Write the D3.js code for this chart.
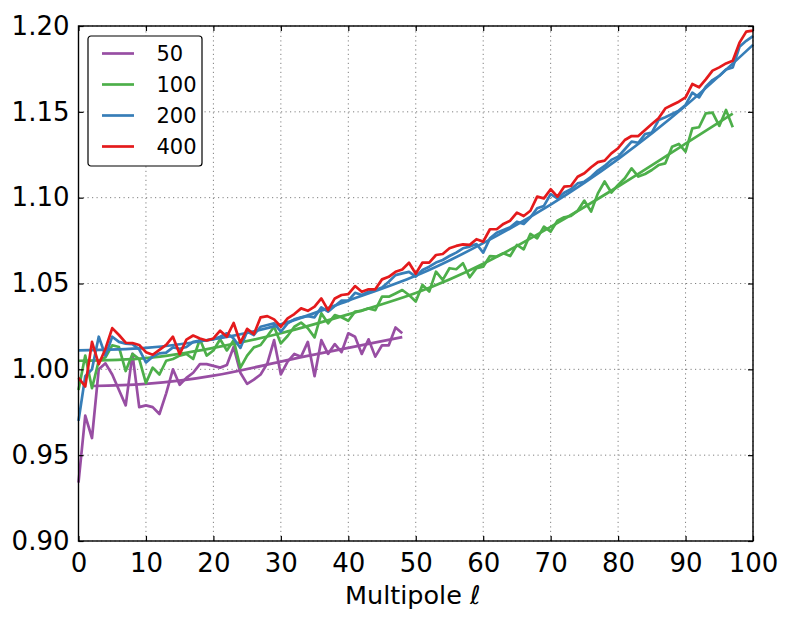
<!DOCTYPE html>
<html>
<head>
<meta charset="utf-8">
<script src="https://cdnjs.cloudflare.com/ajax/libs/d3/7.8.5/d3.min.js"></script>
<style>
  body { margin: 0; background: #fff; }
  svg text { font-family: "DejaVu Sans", sans-serif; fill: #000; }
</style>
</head>
<body>
<svg id="chart" width="790" height="626"></svg>
<script>
// ratio per multipole, index = ell
var ratio50 = [0.934, 0.973, 0.960, 1.000, 1.0035, 0.997, 0.988, 0.979, 1.009, 0.978,
  0.979, 0.978, 0.974, 0.986, 1.000, 0.991, 0.995, 0.998, 1.003, 1.003,
  1.002, 1.001, 1.0025, 1.013, 0.998, 0.9915, 0.994, 0.997, 1.0035, 1.017,
  0.997, 1.0045, 1.009, 1.0074, 1.016, 0.996, 1.017, 1.009, 1.0147, 1.010,
  1.021, 1.019, 1.009, 1.0175, 1.0074, 1.014, 1.014, 1.0244, 1.021];

var ratio100 = [0.988, 1.008, 0.989, 1.005, 1.007, 1.014, 1.013, 0.999, 1.009, 1.006,
  0.992, 1.001, 0.997, 1.005, 1.006, 1.008, 1.009, 1.006, 1.0175, 1.008,
  1.011, 1.0175, 1.011, 1.017, 1.001, 1.008, 1.0128, 1.0142, 1.0194, 1.0248,
  1.0151, 1.0194, 1.0248, 1.0272, 1.0239, 1.0186, 1.0326, 1.0268, 1.0316, 1.0303,
  1.0283, 1.0336, 1.0341, 1.0355, 1.0345, 1.0423, 1.0423, 1.0442, 1.0462, 1.0433,
  1.0395, 1.0492, 1.0453, 1.0569, 1.0521, 1.0589, 1.0583, 1.0618, 1.0536, 1.0589,
  1.0598, 1.066, 1.0657, 1.0676, 1.066, 1.0725, 1.0699, 1.0789, 1.0763, 1.0831,
  1.0802, 1.0866, 1.0886, 1.0893, 1.0924, 1.0983, 1.0919, 1.1025, 1.1094, 1.103,
  1.1074, 1.1113, 1.1171, 1.1123, 1.1138, 1.1161, 1.119, 1.12, 1.1297, 1.1313,
  1.1268, 1.1404, 1.141, 1.1491, 1.1495, 1.1418, 1.1511, 1.141];

var ratio200 = [0.970, 0.996, 1.000, 1.019, 1.008, 1.019, 1.016, 1.015, 1.0147, 1.0116,
  1.004, 1.0074, 1.0093, 1.0097, 1.0128, 1.012, 1.013, 1.016, 1.0167, 1.017,
  1.0175, 1.019, 1.021, 1.018, 1.0125, 1.022, 1.020, 1.0248, 1.0258, 1.0268,
  1.0219, 1.0268, 1.0291, 1.0303, 1.031, 1.0303, 1.0361, 1.0336, 1.0369, 1.040,
  1.040, 1.0446, 1.0433, 1.0452, 1.0462, 1.0477, 1.051, 1.0549, 1.0559, 1.0568,
  1.054, 1.0579, 1.0598, 1.0622, 1.0637, 1.066, 1.068, 1.0705, 1.0715, 1.073,
  1.068, 1.0763, 1.0796, 1.0812, 1.0827, 1.086, 1.0847, 1.0886, 1.0938, 1.0952,
  1.1021, 1.0996, 1.1029, 1.1049, 1.1083, 1.1093, 1.1122, 1.1158, 1.1185, 1.122,
  1.1239, 1.1282, 1.1326, 1.132, 1.1371, 1.1379, 1.1452, 1.1468, 1.1487, 1.1507,
  1.154, 1.1612, 1.1584, 1.1646, 1.1685, 1.1709, 1.1747, 1.1759, 1.1879, 1.1914,
  1.1941];

var ratio400 = [0.995, 0.990, 1.016, 1.003, 1.012, 1.024, 1.020, 1.0155, 1.0153, 1.0142,
  1.010, 1.0085, 1.0113, 1.0142, 1.019, 1.0089, 1.0173, 1.0197, 1.018, 1.0168,
  1.018, 1.0225, 1.019, 1.027, 1.0155, 1.0236, 1.0205, 1.0303, 1.031, 1.0291,
  1.0248, 1.0297, 1.0322, 1.0355, 1.0341, 1.0365, 1.0413, 1.0345, 1.0413, 1.0433,
  1.0438, 1.0485, 1.0452, 1.0466, 1.0466, 1.0524, 1.0539, 1.0568, 1.0582, 1.0621,
  1.0557, 1.0622, 1.0622, 1.0666, 1.0672, 1.0705, 1.0719, 1.0728, 1.0725, 1.0758,
  1.0744, 1.0816, 1.0816, 1.0847, 1.0866, 1.0913, 1.0893, 1.0924, 1.1006, 1.0996,
  1.1049, 1.1006, 1.1064, 1.1068, 1.1122, 1.1142, 1.1177, 1.1207, 1.1216, 1.1258,
  1.1288, 1.1336, 1.1359, 1.1359, 1.1394, 1.1429, 1.1462, 1.152, 1.154, 1.1559,
  1.1584, 1.1662, 1.1643, 1.1689, 1.174, 1.1759, 1.1782, 1.1798, 1.1903, 1.1967,
  1.1973];

var fitEll50 = [2, 10, 20, 30, 40, 48];
var fit50 = [0.9903, 0.9915, 0.9963, 1.0045, 1.0125, 1.0188];
var fitEll100 = [0, 10, 20, 30, 40, 50, 60, 70, 80, 90, 97];
var fit100 = [1.005, 1.0065, 1.0125, 1.021, 1.032, 1.0445, 1.0615, 1.083, 1.1065, 1.1315, 1.149];
var fitEll200 = [0, 10, 20, 30, 40, 50, 60, 70, 80, 90, 100];
var fit200 = [1.011, 1.0125, 1.0175, 1.0262, 1.040, 1.0545, 1.0735, 1.096, 1.1225, 1.1535, 1.189];

var legendLabels = ["50", "100", "200", "400"];
var colors = ["#984ea3", "#4daf4a", "#377eb8", "#e41a1c"];
var xTicks = [0, 10, 20, 30, 40, 50, 60, 70, 80, 90, 100];
var yTicks = [0.90, 0.95, 1.00, 1.05, 1.10, 1.15, 1.20];

var margin = {left: 78.5, right: 37, top: 26, bottom: 85};
var W = 790, H = 626;
var svg = d3.select("#chart");

var x = d3.scaleLinear().domain([0, 100]).range([margin.left, W - margin.right]);
var y = d3.scaleLinear().domain([0.90, 1.20]).range([H - margin.bottom, margin.top]);

// grid
var grid = svg.append("g").attr("stroke", "#808080").attr("stroke-width", 1)
  .attr("stroke-dasharray", "1.2,3.3");
grid.selectAll(".gx").data(xTicks).enter().append("line")
  .attr("x1", d => x(d)).attr("x2", d => x(d))
  .attr("y1", y(0.90)).attr("y2", y(1.20));
grid.selectAll(".gy").data(yTicks).enter().append("line")
  .attr("x1", x(0)).attr("x2", x(100))
  .attr("y1", d => y(d)).attr("y2", d => y(d));

// data
var line = d3.line().x((d, i) => x(i)).y(d => y(d));
var fitLine = d3.line().x(d => x(d[0])).y(d => y(d[1])).curve(d3.curveNatural);
var zip = (a, b) => a.map((v, i) => [v, b[i]]);

var plot = svg.append("g").attr("fill", "none").attr("stroke-width", 2.7)
  .attr("stroke-linejoin", "round");
plot.append("path").attr("d", line(ratio50)).attr("stroke", colors[0]);
plot.append("path").attr("d", fitLine(zip(fitEll50, fit50))).attr("stroke", colors[0]);
plot.append("path").attr("d", line(ratio100)).attr("stroke", colors[1]);
plot.append("path").attr("d", fitLine(zip(fitEll100, fit100))).attr("stroke", colors[1]);
plot.append("path").attr("d", line(ratio200)).attr("stroke", colors[2]);
plot.append("path").attr("d", fitLine(zip(fitEll200, fit200))).attr("stroke", colors[2]);
plot.append("path").attr("d", line(ratio400)).attr("stroke", colors[3]);

// axes, ticks pointing inward on all four sides
var fmt = d3.format(".2f");
svg.append("g").attr("transform", "translate(0," + y(0.90) + ")")
  .call(d3.axisBottom(x).tickValues(xTicks).tickSizeInner(-5).tickSizeOuter(0).tickPadding(13));
svg.append("g").attr("transform", "translate(0," + y(1.20) + ")")
  .call(d3.axisTop(x).tickValues(xTicks).tickSizeInner(-5).tickSizeOuter(0).tickFormat(""));
svg.append("g").attr("transform", "translate(" + x(0) + ",0)")
  .call(d3.axisLeft(y).tickValues(yTicks).tickSizeInner(-5).tickSizeOuter(0).tickPadding(9).tickFormat(fmt));
svg.append("g").attr("transform", "translate(" + x(100) + ",0)")
  .call(d3.axisRight(y).tickValues(yTicks).tickSizeInner(-5).tickSizeOuter(0).tickFormat(""));
svg.selectAll(".tick line").attr("stroke", "#000").attr("stroke-width", 1.2);
svg.selectAll(".domain").remove();
svg.selectAll(".tick text").attr("font-size", 26).attr("font-family", "DejaVu Sans");

svg.append("rect").attr("x", x(0)).attr("y", y(1.20))
  .attr("width", x(100) - x(0)).attr("height", y(0.90) - y(1.20))
  .attr("fill", "none").attr("stroke", "#000").attr("stroke-width", 1.4);

svg.append("text").attr("x", (x(0) + x(100)) / 2 - 3).attr("y", 604)
  .attr("text-anchor", "middle").attr("font-size", 25.5)
  .text("Multipole ")
  .append("tspan").attr("font-style", "italic").text("ℓ");

// legend
var lg = svg.append("g").attr("transform", "translate(88,36)");
lg.append("rect").attr("width", 114).attr("height", 130).attr("rx", 3)
  .attr("fill", "#fff").attr("stroke", "#000").attr("stroke-width", 1.2);
legendLabels.forEach(function(lab, i) {
  var yy = 17.5 + i * 31;
  lg.append("line").attr("x1", 14).attr("x2", 46).attr("y1", yy).attr("y2", yy)
    .attr("stroke", colors[i]).attr("stroke-width", 2.7);
  lg.append("text").attr("x", 68.5).attr("y", yy + 7.5).attr("font-size", 21).text(lab);
});
</script>
</body>
</html>
